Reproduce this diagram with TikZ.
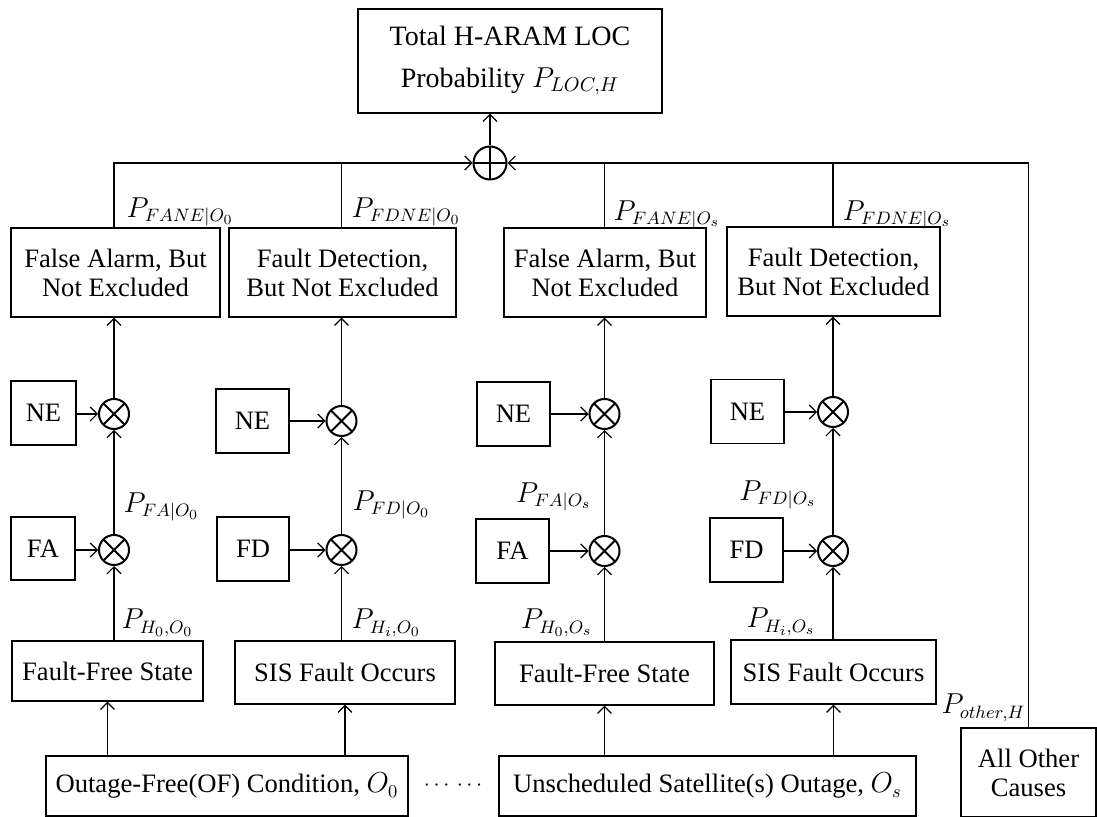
\documentclass[tikz,border=0pt]{standalone}
\usepackage{fontspec}
\setmainfont{Liberation Serif}
\usepackage{amsmath}
\usetikzlibrary{arrows.meta,positioning}

\tikzset{
  box/.style 2 args={draw, line width=0.6pt, align=center, inner sep=0pt,
    minimum width=#1*0.5pt, minimum height=#2*0.5pt},
  mult/.style={circle, draw, line width=1pt, minimum size=15pt, inner sep=0pt,
    path picture={\draw[line width=1pt]
      (path picture bounding box.north west) -- (path picture bounding box.south east)
      (path picture bounding box.north east) -- (path picture bounding box.south west);}},
  sumnode/.style={circle, draw, line width=1pt, minimum size=16.5pt, inner sep=0pt,
    path picture={\draw[line width=1pt]
      (path picture bounding box.north) -- (path picture bounding box.south)
      (path picture bounding box.west) -- (path picture bounding box.east);}},
  lbl/.style={inner sep=0pt}
}

\begin{document}
\begin{tikzpicture}[x=0.5pt, y=-0.5pt, line width=0.6pt,
    >={Straight Barb[length=3.5pt,width=7pt]},
    every node/.style={font=\fontsize{13.3}{14.5}\selectfont}]
\useasboundingbox (0,0) rectangle (1097,817);

% top and sum
\node[box={304}{104}, font=\fontsize{14}{21}\selectfont] (total) at (510,61) {Total H-ARAM LOC\\Probability $P_{LOC,H}$};
\node[sumnode] (sum) at (490,163) {};

% not excluded
\node[box={209}{89}] (fane0) at (115.5,272.5) {False Alarm, But\\Not Excluded};
\node[box={227}{89}] (fdne0) at (342.5,272.5) {Fault Detection,\\But Not Excluded};
\node[box={202}{89}] (fanes) at (605,272.5) {False Alarm, But\\Not Excluded};
\node[box={213}{89}] (fdnes) at (833.5,271.5) {Fault Detection,\\But Not Excluded};

% NE
\node[box={65}{64}] (ne1) at (43.5,413) {NE};
\node[box={73}{64}] (ne2) at (252.5,421) {NE};
\node[box={73}{64}] (ne3) at (513.5,414) {NE};
\node[box={73}{64}] (ne4) at (747.5,411.5) {NE};
\node[mult] (nex1) at (114,414) {};
\node[mult] (nex2) at (341.5,421) {};
\node[mult] (nex3) at (604.5,414) {};
\node[mult] (nex4) at (833,412) {};

% FA / FD
\node[box={64}{63}] (fa1) at (43,548.5) {FA};
\node[box={72}{64}] (fd2) at (253,549) {FD};
\node[box={73}{64}] (fa3) at (512.5,551) {FA};
\node[box={73}{64}] (fd4) at (746.5,550) {FD};
\node[mult] (fax1) at (114,550) {};
\node[mult] (fdx2) at (341.5,550) {};
\node[mult] (fax3) at (604.5,551) {};
\node[mult] (fdx4) at (833,551) {};

% states
\node[box={191}{60}] (ff0) at (107.5,671) {Fault-Free State};
\node[box={220}{63}] (sis0) at (345,672.5) {SIS Fault Occurs};
\node[box={219}{63}] (ffs) at (604.5,673.5) {Fault-Free State};
\node[box={205}{64}] (siss) at (833.5,672) {SIS Fault Occurs};

% outage conditions
\node[box={362}{60}] (oc0) at (227,786) {Outage-Free(OF) Condition, $O_0$};
\node[font=\fontsize{11}{12}\selectfont] (dots) at (455,786) {$\cdots\,\cdots$};
\node[box={417}{60}] (ocs) at (707.5,786) {Unscheduled Satellite(s) Outage, $O_s$};
\node[box={135}{89}] (other) at (1028.5,772.5) {All Other\\Causes};

% connectors
\draw[->] (ff0.south |- oc0.north) -- (ff0.south);
\draw[->] (sis0.south |- oc0.north) -- (sis0.south);
\draw[->] (ffs.south |- ocs.north) -- (ffs.south);
\draw[->] (siss.south |- ocs.north) -- (siss.south);

\draw[->] (fax1.south |- ff0.north) -- (fax1.south);
\draw[->] (fdx2.south |- sis0.north) -- (fdx2.south);
\draw[->] (fax3.south |- ffs.north) -- (fax3.south);
\draw[->] (fdx4.south |- siss.north) -- (fdx4.south);

\draw[->] (fa1.east |- fax1) -- (fax1.west);
\draw[->] (fd2.east |- fdx2) -- (fdx2.west);
\draw[->] (fa3.east |- fax3) -- (fax3.west);
\draw[->] (fd4.east |- fdx4) -- (fdx4.west);

\draw[->] (fax1.north) -- (nex1.south);
\draw[->] (fdx2.north) -- (nex2.south);
\draw[->] (fax3.north) -- (nex3.south);
\draw[->] (fdx4.north) -- (nex4.south);

\draw[->] (ne1.east |- nex1) -- (nex1.west);
\draw[->] (ne2.east |- nex2) -- (nex2.west);
\draw[->] (ne3.east |- nex3) -- (nex3.west);
\draw[->] (ne4.east |- nex4) -- (nex4.west);

\draw[->] (nex1.north) -- (nex1.north |- fane0.south);
\draw[->] (nex2.north) -- (nex2.north |- fdne0.south);
\draw[->] (nex3.north) -- (nex3.north |- fanes.south);
\draw[->] (nex4.north) -- (nex4.north |- fdnes.south);

\draw[->] (fane0.north -| nex1) |- (sum.west);
\draw (fdne0.north -| nex2) -- (nex2 |- sum);
\draw (fanes.north -| nex3) -- (nex3 |- sum);
\draw (fdnes.north -| nex4) -- (nex4 |- sum);
\draw[->] (other.north) |- (sum.east);
\draw[->] (sum.north) -- (sum.north |- total.south);

% probabilities
\node[lbl, anchor=west] (pfane0) at (126,212) {$P_{FANE|O_0}$};
\node[lbl, anchor=west] (pfdne0) at (351,212) {$P_{FDNE|O_0}$};
\node[lbl, anchor=west] (pfanes) at (613,215) {$P_{FANE|O_s}$};
\node[lbl, anchor=west] (pfdnes) at (842,215) {$P_{FDNE|O_s}$};
\node[lbl, anchor=west] (pfa0) at (123,507) {$P_{FA|O_0}$};
\node[lbl, anchor=west] (pfd0) at (352,505) {$P_{FD|O_0}$};
\node[lbl, anchor=east] (pfas) at (592,497) {$P_{FA|O_s}$};
\node[lbl, anchor=east] (pfds) at (817,495) {$P_{FD|O_s}$};
\node[lbl, anchor=west] (ph00) at (121,623) {$P_{H_0,O_0}$};
\node[lbl, anchor=west] (phi0) at (351,623) {$P_{H_i,O_0}$};
\node[lbl, anchor=east] (ph0s) at (593,623) {$P_{H_0,O_s}$};
\node[lbl, anchor=east] (phis) at (816,622) {$P_{H_i,O_s}$};
\node[lbl, anchor=east] (pother) at (1026,708) {$P_{other,H}$};
\end{tikzpicture}
\end{document}
